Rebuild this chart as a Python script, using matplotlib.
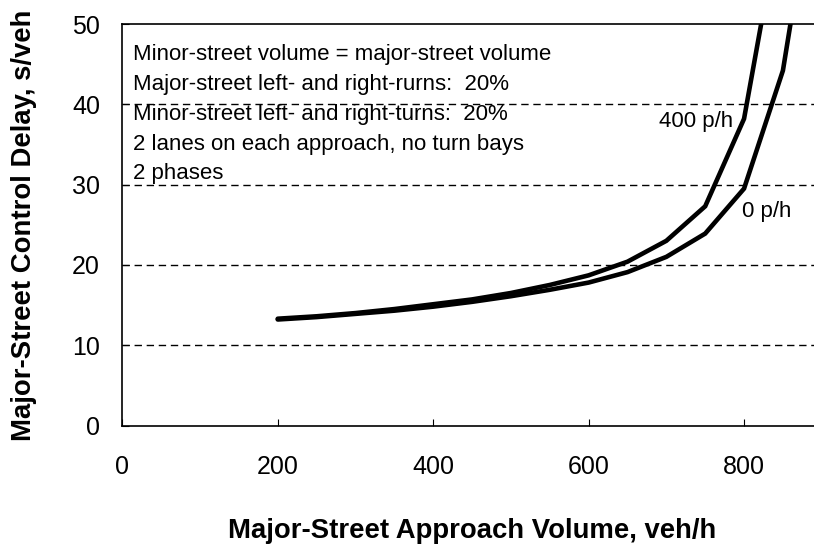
import matplotlib
matplotlib.use("Agg")
import matplotlib.pyplot as plt

plt.rcParams['font.family'] = ['Liberation Sans', 'DejaVu Sans']

volume_0 = [200, 250, 300, 350, 400, 450, 500, 550, 600, 650, 700, 750, 800, 850, 900]
delay_0 = [13.2, 13.5, 13.9, 14.3, 14.8, 15.4, 16.1, 16.9, 17.8, 19.1, 21.0, 23.9, 29.5, 44.2, 74.0]
volume_400 = [200, 250, 300, 350, 400, 450, 500, 550, 600, 650, 700, 750, 800, 850]
delay_400 = [13.3, 13.6, 14.0, 14.5, 15.1, 15.7, 16.5, 17.5, 18.7, 20.4, 23.0, 27.3, 38.2, 65.0]
x_ticks = [0, 200, 400, 600, 800]
y_ticks = [0, 10, 20, 30, 40, 50]
grid_levels = [10, 20, 30, 40]
notes = ["Minor-street volume = major-street volume",
         "Major-street left- and right-rurns:  20%",
         "Minor-street left- and right-turns:  20%",
         "2 lanes on each approach, no turn bays",
         "2 phases"]

fig = plt.figure(figsize=(8.14, 5.5), dpi=100)
ax = fig.add_axes([122.3/814, (550-425.5)/550, (814-122.3)/814, (425.5-24)/550])
ax.set_xlim(0, 890)
ax.set_ylim(0, 50)

for g in grid_levels:
    ax.axhline(g, color='black', lw=1.0, dashes=(5.3, 3.4), zorder=1)

ax.plot(volume_0, delay_0, color='black', lw=3.3, solid_capstyle='round', solid_joinstyle='miter', zorder=3)
ax.plot(volume_400, delay_400, color='black', lw=3.3, solid_capstyle='round', solid_joinstyle='miter', zorder=3)

ax.set_xticks(x_ticks)
ax.set_yticks(y_ticks)
ax.tick_params(direction='in', length=5, width=0.8, labelsize=18)
ax.tick_params(axis='x', pad=21.5)
ax.tick_params(axis='y', pad=16)
ax.spines['right'].set_visible(False)
for s in ['left', 'bottom', 'top']:
    ax.spines[s].set_linewidth(1.2)

for i, t in enumerate(notes):
    ax.text(0.0159, 0.923 - i * 0.074, t, transform=ax.transAxes, fontsize=16, va='center', ha='left', zorder=2)

ax.text(690.5, 37.8, "400 p/h", fontsize=16, ha='left', va='center')
ax.text(797, 26.6, "0 p/h", fontsize=16, ha='left', va='center')

fig.text(472.5/814, 1 - 531/550, "Major-Street Approach Volume, veh/h", fontsize=19.8, fontweight='bold', ha='center', va='center')
fig.text(24/814, 1 - 225/550, "Major-Street Control Delay, s/veh", fontsize=19.8, fontweight='bold', ha='center', va='center', rotation=90)

fig.savefig("out.png", dpi=100)
